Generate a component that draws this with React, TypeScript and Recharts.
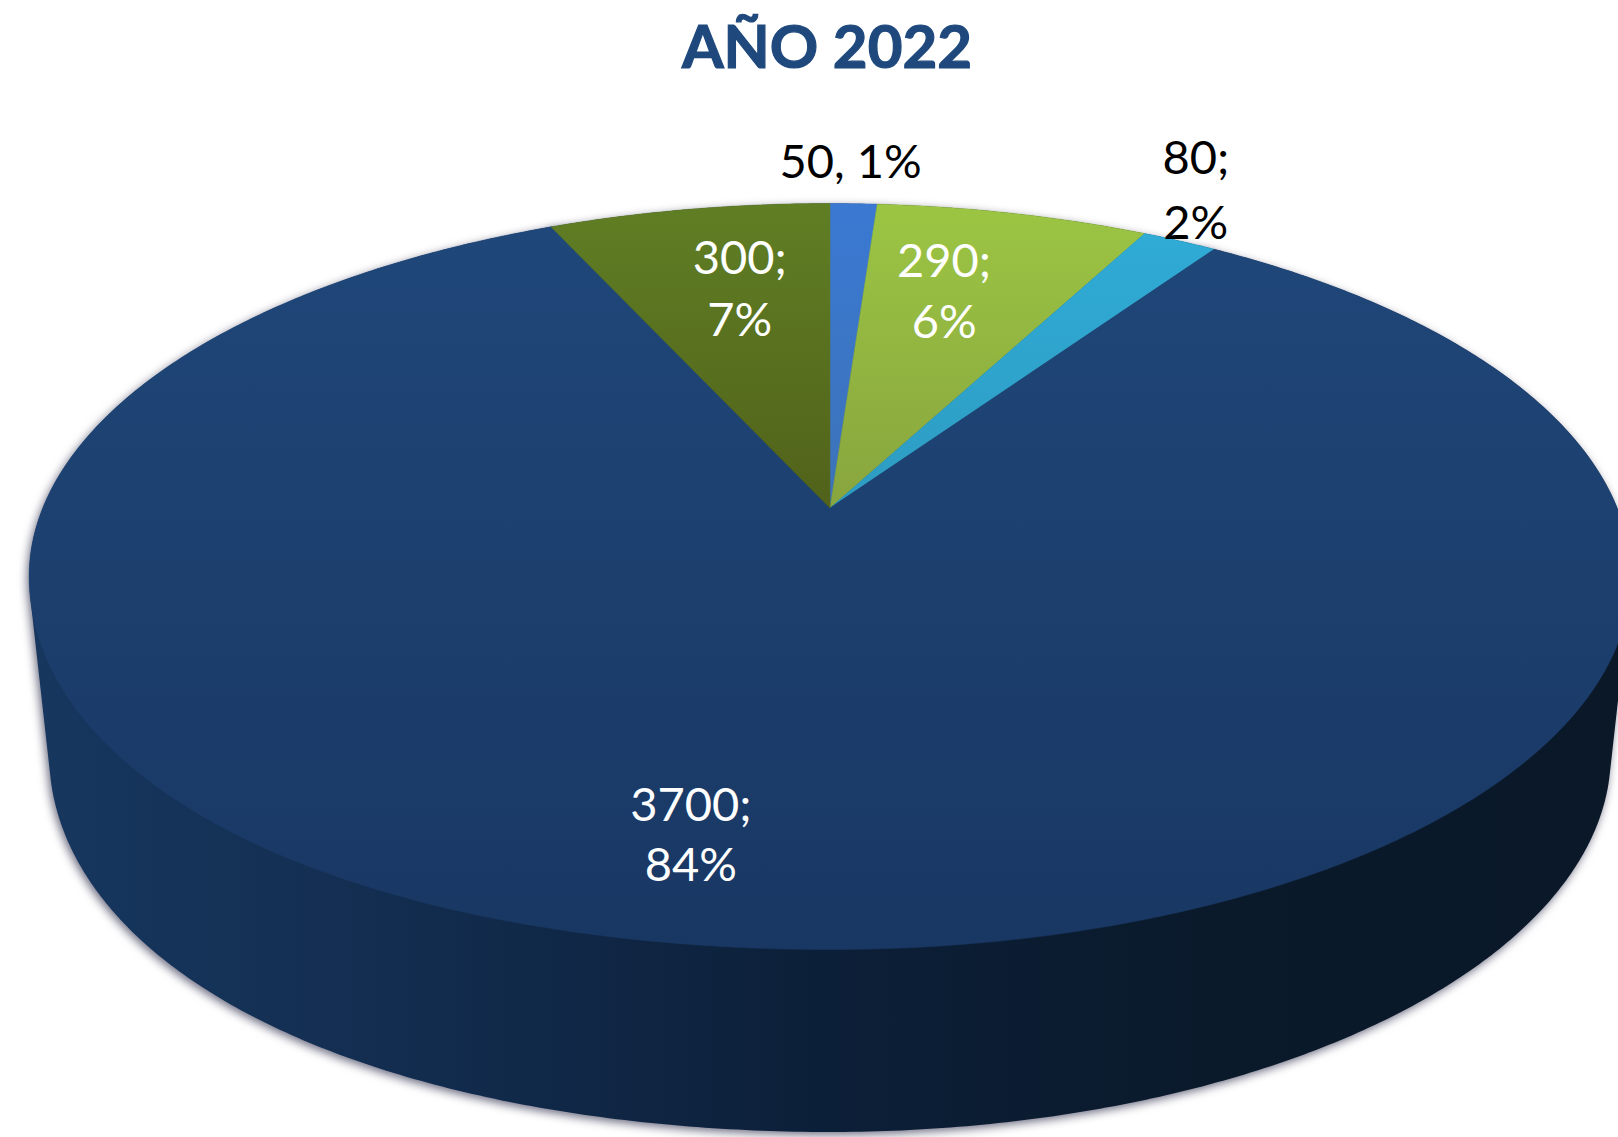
import React from 'react';
import { PieChart, Pie, Cell } from 'recharts';

const categories = ['A', 'B', 'C', 'D', 'E'];
const values = [50, 290, 80, 3700, 300];
const percentLabels = ['1%', '6%', '2%', '84%', '7%'];
const separators = [', ', ';', ';', ';', ';'];

const tableRows = categories.map((name, i) => ({ name, value: values[i] }));

const topColors = [
  ['#3a78d2', '#3c73b8'],
  ['#9cc543', '#88a53e'],
  ['#2fabd6', '#2e9cc2'],
  ['#1f4779', '#193763'],
  ['#607e24', '#51621a'],
];
const labelColors = ['#000', '#fff', '#000', '#fff', '#fff'];
const labelOffsets = [
  [-3, -42],
  [-69, 79],
  [16, -52],
  [-57, -112],
  [51, 80],
];
const labelLineGaps = [0, 61, 65, 60, 62];

const WIDTH = 1618;
const HEIGHT = 1137;
const ASPECT = 2.147;
const APEX_SHIFT = 0.1836;
const WALL_DROP = 178;
const WALL_WIDTH = 0.975;
const WALL_HEIGHT = 1.012;
const LOWER_LEFT_BULGE = 0.014;

// Project a point of the pie's circle onto the tilted ellipse, with perspective.
function project(thetaDeg: number, cx: number, cy: number, r: number) {
  const t = (thetaDeg * Math.PI) / 180;
  const X = Math.sin(t);
  const Y = Math.cos(t);
  const den = 1 + APEX_SHIFT * Y;
  const s = Math.sqrt(1 - APEX_SHIFT * APEX_SHIFT);
  const u = (X * s) / den;
  const v = (Y + APEX_SHIFT) / den;
  const bulge = u < 0 && v < 0 ? 1 + LOWER_LEFT_BULGE * Math.pow(2 * u * v, 2) : 1;
  return [cx + r * ASPECT * u * bulge, cy - r * v * bulge];
}

function samples(startAngle: number, endAngle: number) {
  const a = 90 - startAngle;
  const b = 90 - endAngle;
  const n = Math.max(2, Math.ceil(Math.abs(b - a) * 2));
  return Array.from({ length: n + 1 }, (_, i) => a + ((b - a) * i) / n);
}

function TopSector(props: any) {
  const { cx, cy, outerRadius, startAngle, endAngle, index } = props;
  const pts = samples(startAngle, endAngle).map((th) => project(th, cx, cy, outerRadius));
  const apex = [cx, cy - outerRadius * APEX_SHIFT];
  const d = `M${apex[0]},${apex[1]} ` + pts.map((p) => `L${p[0]},${p[1]}`).join(' ') + ' Z';
  return <path d={d} fill={`url(#top${index})`} stroke={`url(#top${index})`} strokeWidth={0.5} />;
}

function hull(points: number[][]) {
  const p = [...points].sort((a, b) => a[0] - b[0] || a[1] - b[1]);
  const cross = (o: number[], a: number[], b: number[]) =>
    (a[0] - o[0]) * (b[1] - o[1]) - (a[1] - o[1]) * (b[0] - o[0]);
  const build = (list: number[][]) => {
    const out: number[][] = [];
    for (const q of list) {
      while (out.length >= 2 && cross(out[out.length - 2], out[out.length - 1], q) <= 0) out.pop();
      out.push(q);
    }
    out.pop();
    return out;
  };
  return [...build(p), ...build(p.reverse())];
}

function WallSector(props: any) {
  const { cx, cy, outerRadius, startAngle, endAngle } = props;
  const ths = samples(startAngle, endAngle);
  const top = ths.map((th) => project(th, cx, cy, outerRadius));
  const bottom = ths.map((th) => {
    const q = project(th, 0, 0, outerRadius);
    return [cx + q[0] * WALL_WIDTH, cy + WALL_DROP + q[1] * WALL_HEIGHT];
  });
  const h = hull([...top, ...bottom]);
  const d = h.map((p, i) => `${i ? 'L' : 'M'}${p[0]},${p[1]}`).join(' ') + ' Z';
  return (
    <path
      d={d}
      fill="url(#wall)"
      style={{ filter: 'drop-shadow(-2px 3px 5px rgba(50,50,80,0.7))' }}
    />
  );
}

function renderLabel(props: any) {
  const { cx, cy, outerRadius, midAngle, index } = props;
  const rim = project(90 - midAngle, cx, cy, outerRadius);
  const x = rim[0] + labelOffsets[index][0];
  const y = rim[1] + labelOffsets[index][1];
  const common = {
    textAnchor: 'middle' as const,
    fontFamily: 'Lato',
    fontSize: 47,
    fill: labelColors[index],
  };
  if (separators[index] === ', ') {
    return (
      <text x={x} y={y + 16} {...common}>
        {`${values[index]}, ${percentLabels[index]}`}
      </text>
    );
  }
  return (
    <text x={x} y={y - 15} {...common}>
      <tspan x={x}>{`${values[index]}${separators[index]}`}</tspan>
      <tspan x={x} dy={labelLineGaps[index]}>
        {percentLabels[index]}
      </tspan>
    </text>
  );
}

export default function App() {
  return (
    <div
      style={{
        position: 'absolute',
        left: 0,
        top: 0,
        width: WIDTH,
        height: HEIGHT,
        overflow: 'hidden',
        background: '#fff',
      }}
    >
      <div
        style={{
          position: 'absolute',
          left: 0,
          width: 1654,
          top: 6,
          textAlign: 'center',
          fontFamily: 'Lato',
          fontWeight: 700,
          fontSize: 60,
          lineHeight: '78px',
          color: '#1f497d',
          WebkitTextStroke: '1.2px #1f497d',
        }}
      >
        AÑO 2022
      </div>
      <PieChart width={WIDTH} height={HEIGHT} margin={{ top: 0, right: 0, bottom: 0, left: 0 }}>
        <defs>
          {topColors.map((c, i) => (
            <linearGradient key={i} id={`top${i}`} x1="0" y1="0" x2="0" y2="1">
              <stop offset="0" stopColor={c[0]} />
              <stop offset="1" stopColor={c[1]} />
            </linearGradient>
          ))}
          <linearGradient id="wall" gradientUnits="userSpaceOnUse" x1="30" y1="0" x2="1620" y2="0">
            <stop offset="0" stopColor="#17375f" />
            <stop offset="0.25" stopColor="#122c4e" />
            <stop offset="0.5" stopColor="#0c1f38" />
            <stop offset="0.75" stopColor="#0a1a2b" />
            <stop offset="1" stopColor="#0a1828" />
          </linearGradient>
        </defs>
        <Pie
          data={tableRows}
          dataKey="value"
          nameKey="name"
          cx={830}
          cy={576.5}
          innerRadius={0}
          outerRadius={373}
          startAngle={90}
          endAngle={-270}
          stroke="none"
          shape={WallSector}
          isAnimationActive={false}
          legendType="none"
        />
        <Pie
          data={tableRows}
          dataKey="value"
          nameKey="name"
          cx={830}
          cy={576.5}
          innerRadius={0}
          outerRadius={373}
          startAngle={90}
          endAngle={-270}
          stroke="none"
          shape={TopSector}
          label={renderLabel}
          labelLine={false}
          isAnimationActive={false}
        >
          {tableRows.map((row, i) => (
            <Cell key={row.name} fill={topColors[i][0]} />
          ))}
        </Pie>
      </PieChart>
    </div>
  );
}
